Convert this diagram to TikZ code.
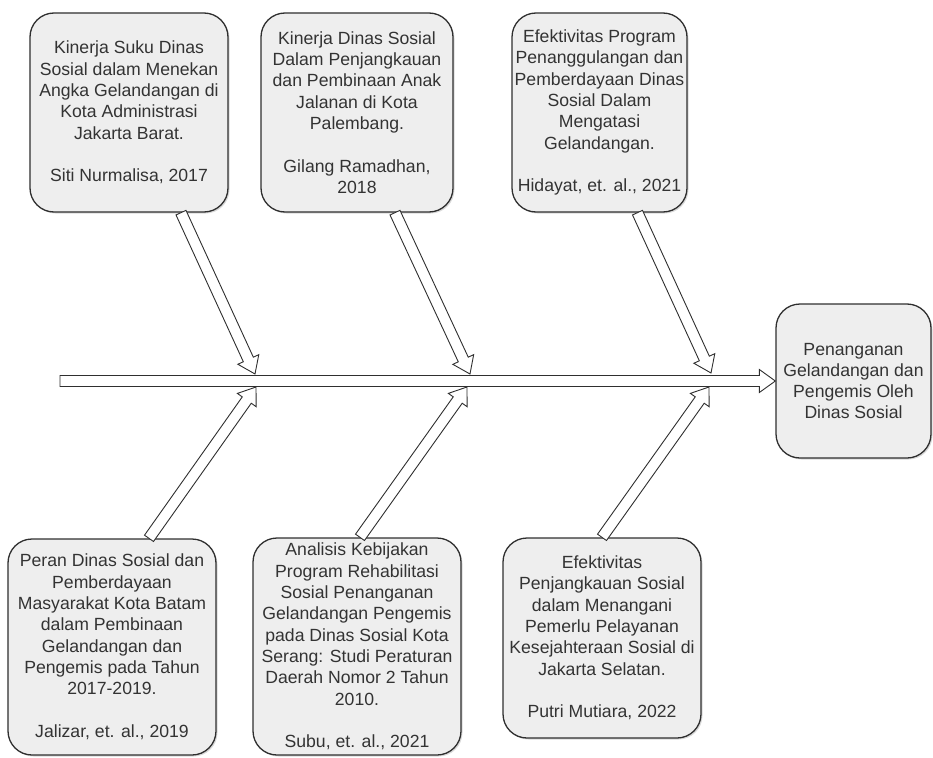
\documentclass[tikz,border=0pt]{standalone}
\usepackage{fontspec}
\setmainfont{Liberation Sans}
\usepackage{tikz}
\usetikzlibrary{calc,shadows}
\definecolor{ink}{HTML}{333333}
\definecolor{edge}{HTML}{2F2F2F}
\definecolor{paleGray}{HTML}{EEEEEE}
\newcommand\fatarrow[2]{%
  \coordinate (fa-s) at (#1);
  \coordinate (fa-t) at (#2);
  \coordinate (fa-b) at ($(fa-t)!16bp!(fa-s)$);
  \draw[shaft] ($(fa-s)!5.5bp!90:(fa-t)$) -- ($(fa-b)!5.5bp!90:(fa-t)$)
    -- ($(fa-b)!11.5bp!90:(fa-t)$) -- (fa-t)
    -- ($(fa-b)!11.5bp!-90:(fa-t)$) -- ($(fa-b)!5.5bp!-90:(fa-t)$)
    -- ($(fa-s)!5.5bp!-90:(fa-t)$) -- cycle;}

\begin{document}
\begin{tikzpicture}[
  x=1bp,y=-1bp,
  paper/.style={rectangle,rounded corners=24bp,draw=edge,line width=1.3bp,fill=paleGray,
    text=ink,align=center,inner sep=1bp,
    drop shadow={shadow xshift=1.5bp,shadow yshift=-1.5bp,opacity=0.3}},
  shaft/.style={draw=edge,fill=white,line width=0.9bp},
  every node/.style={font=\fontsize{17.7}{21.4}\selectfont}
]
  \useasboundingbox (0,0) rectangle (933,758);
  \node[paper,minimum width=198bp,minimum height=199bp] (A) at (129,112.5) {Kinerja Suku Dinas\\Sosial dalam Menekan\\Angka Gelandangan di\\Kota Administrasi\\Jakarta Barat.\\[21.4bp]Siti Nurmalisa, 2017};
  \node[paper,minimum width=192bp,minimum height=199bp] (B) at (357,112.5) {Kinerja Dinas Sosial\\Dalam Penjangkauan\\dan Pembinaan Anak\\Jalanan di Kota\\Palembang.\\[21.4bp]Gilang Ramadhan,\\2018};
  \node[paper,minimum width=175bp,minimum height=199bp] (C) at (599.5,112.5) {Efektivitas Program\\Penanggulangan dan\\Pemberdayaan Dinas\\Sosial Dalam\\Mengatasi\\Gelandangan.\\[21.4bp]Hidayat, et. al., 2021};
  \node[paper,minimum width=155bp,minimum height=154bp] (R) at (853.5,381) {Penanganan\\Gelandangan dan\\Pengemis Oleh\\Dinas Sosial};
  \node[paper,minimum width=208bp,minimum height=216bp] (D) at (112,647) {Peran Dinas Sosial dan\\Pemberdayaan\\Masyarakat Kota Batam\\dalam Pembinaan\\Gelandangan dan\\Pengemis pada Tahun\\2017-2019.\\[21.4bp]Jalizar, et. al., 2019};
  \node[paper,minimum width=208bp,minimum height=217bp] (E) at (357,646.5) {Analisis Kebijakan\\Program Rehabilitasi\\Sosial Penanganan\\Gelandangan Pengemis\\pada Dinas Sosial Kota\\Serang: Studi Peraturan\\Daerah Nomor 2 Tahun\\2010.\\[21.4bp]Subu, et. al., 2021};
  \node[paper,minimum width=198bp,minimum height=200bp] (F) at (602,638) {Efektivitas\\Penjangkauan Sosial\\dalam Menangani\\Pemerlu Pelayanan\\Kesejahteraan Sosial di\\Jakarta Selatan.\\[21.4bp]Putri Mutiara, 2022};
  \coordinate (tail) at (60,381);
  \coordinate (j1) at (255,374);
  \coordinate (j2) at (470,374);
  \coordinate (j3) at (711,373);
  \coordinate (k1) at (256,387);
  \coordinate (k2) at (467,387);
  \coordinate (k3) at (709,387);
  \fatarrow{tail}{R.west}
  \fatarrow{[xshift=52bp]A.south}{j1}
  \fatarrow{[xshift=38bp]B.south}{j2}
  \fatarrow{[xshift=38bp]C.south}{j3}
  \fatarrow{[xshift=37bp]D.north}{k1}
  \fatarrow{[xshift=3bp]E.north}{k2}
  \fatarrow{F.north}{k3}
\end{tikzpicture}
\end{document}
